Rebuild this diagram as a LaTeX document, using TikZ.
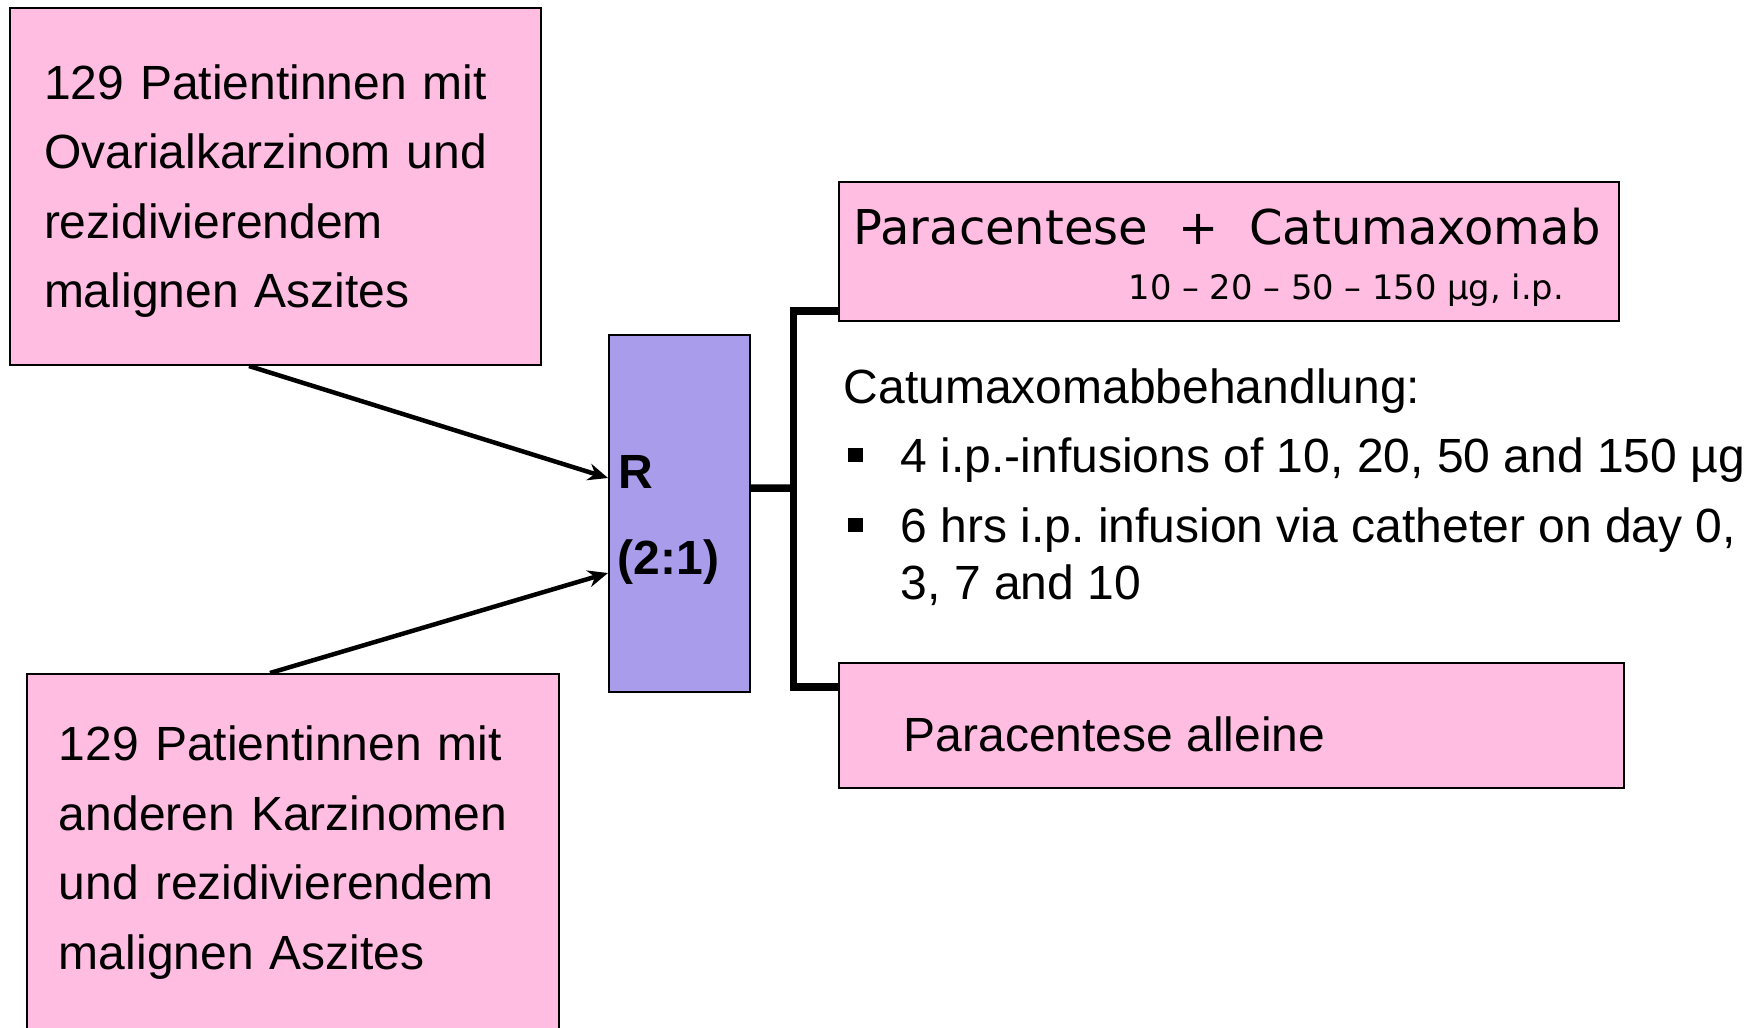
\documentclass[tikz,border=0pt]{standalone}
\usepackage{fontspec}
\setmainfont{Liberation Sans}
\newfontfamily\dejavu{DejaVu Sans}
\usetikzlibrary{positioning,arrows.meta}
\definecolor{pinkbox}{RGB}{255,189,226}
\definecolor{lilac}{RGB}{169,157,235}
\newcommand{\sqbullet}{\makebox[0.53cm][l]{\rule[0.10cm]{0.15cm}{0.14cm}}}
\frenchspacing

\begin{document}
\begin{tikzpicture}[
every node/.style = {font=\fontsize{13.66pt}{19.75pt}\selectfont},
patbox/.style = {draw, line width=0.02cm, fill=pinkbox, minimum width=5.31cm, minimum height=3.57cm, inner xsep=0.34cm, text width=4.63cm, align=left},
armbox/.style = {draw, line width=0.02cm, fill=pinkbox, anchor=north west},
txt/.style = {anchor=base west, inner sep=0pt},
feed/.style = {line width=0.045cm, -{Stealth[length=0.2cm,width=0.17cm]}},
bracket/.style = {line width=0.075cm},
]
\clip (0,0) rectangle (17.56,-10.27);

\node [patbox] (ovar) at (2.755,-1.865) {\rule{0pt}{0.44cm}129 Patientinnen mit\\Ovarialkarzinom und\\rezidivierendem\\malignen Aszites};
\node [patbox, inner xsep=0.31cm, text width=4.68cm] (other) at (2.93,-8.525) {129 Patientinnen mit\\anderen Karzinomen\\und rezidivierendem\\malignen Aszites};

\node [draw, line width=0.02cm, fill=lilac, minimum width=1.41cm, minimum height=3.57cm] (rand) at (6.795,-5.135) {};
\node [txt, font=\fontsize{13.66pt}{19.75pt}\selectfont\bfseries] (rlbl) at (6.18,-4.88) {R};
\node [txt, font=\fontsize{13.66pt}{19.75pt}\selectfont\bfseries] (ratio) at (6.17,-5.74) {(2:1)};

\node [armbox, minimum width=7.80cm, minimum height=1.39cm] (treat) at (8.38,-1.81) {};
\node [txt, font=\dejavu\fontsize{13.65pt}{16pt}\selectfont] (treatlbl) at (8.53,-2.44) {Paracentese~~+~~Catumaxomab};
\node [txt, font=\dejavu\fontsize{9.6pt}{11pt}\selectfont] (doselbl) at (11.28,-2.99) {10 – 20 – 50 – 150 µg, i.p.};

\node [armbox, minimum width=7.85cm, minimum height=1.25cm] (ctrl) at (8.38,-6.62) {};
\node [txt] (ctrllbl) at (9.03,-7.51) {Paracentese alleine};

\node [txt] (scheme) at (8.43,-4.03) {Catumaxomabbehandlung:};
\node [txt] (dose) at (8.47,-4.72) {\sqbullet 4 i.p.-infusions of 10, 20, 50 and 150 µg};
\node [txt] (sched) at (8.47,-5.42) {\sqbullet 6 hrs i.p. infusion via catheter on day 0,};
\node [txt] (schedrest) at (9.00,-5.99) {3, 7 and 10};

\draw [feed] ([xshift=-0.265cm]ovar.south) -- ([yshift=0.355cm]rand.west);
\draw [feed] ([xshift=-0.23cm]other.north) -- ([yshift=-0.595cm]rand.west);

\coordinate (split) at (7.935,-4.88);
\draw [bracket] ([yshift=0.255cm]rand.east) -- (split);
\draw [bracket] ([yshift=0.11cm]treat.south west) -| (split) |- ([yshift=-0.25cm]ctrl.north west);

\end{tikzpicture}
\end{document}
